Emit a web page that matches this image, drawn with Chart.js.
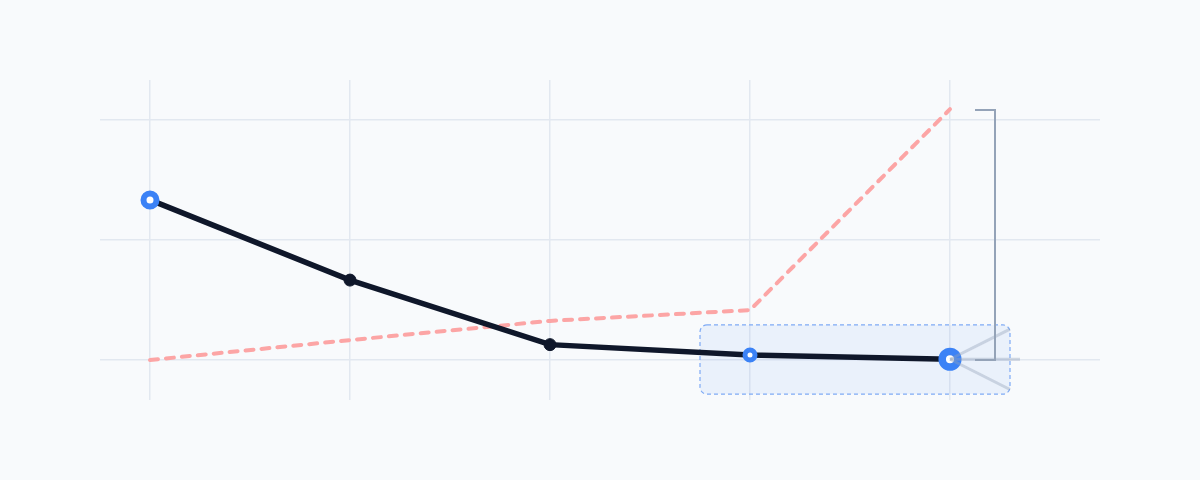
<!DOCTYPE html>
<html>
<head>
<meta charset="utf-8">
<script src="https://cdn.jsdelivr.net/npm/chart.js@4.4.1/dist/chart.umd.min.js"></script>
<style>
  html, body { margin: 0; padding: 0; background: #f8fafc; }
  #wrap { width: 1200px; height: 480px; }
</style>
</head>
<body>
<div id="wrap"><canvas id="chart"></canvas></div>
<script>
// Data
const steps = [0, 1, 2, 3, 4];
const mainSeries = [66.7, 33.3, 6.4, 2.1, 0.3];
const dashedSeries = [0, 8.3, 16.3, 20.8, 104.5];
const yTicks = [0, 50, 100];

// Marker styling per point
const ringBlue = '#3b82f6';
const ink = '#0f172a';
const pointRadii = [6.5, 6, 6, 5, 7.8];
const pointBorders = [6, 1, 1, 5, 7.5];
const pointFill = ['#ffffff', ink, ink, '#ffffff', '#ffffff'];
const pointStroke = [ringBlue, ink, ink, ringBlue, ringBlue];

// Overlay: highlight box, fan, bracket (drawn through the scales)
const overlay = {
  id: 'overlay',
  beforeDatasetsDraw(chart) {
    const {ctx, scales: {x, y}} = chart;
    const x0 = x.getPixelForValue(2.75), x1 = x.getPixelForValue(4.3);
    const y0 = y.getPixelForValue(14.6), y1 = y.getPixelForValue(-14.2);
    ctx.save();
    ctx.beginPath();
    ctx.roundRect(x0, y0, x1 - x0, y1 - y0, 7);
    ctx.fillStyle = 'rgba(59,130,246,0.07)';
    ctx.fill();
    ctx.setLineDash([4, 3]);
    ctx.lineWidth = 1.2;
    ctx.strokeStyle = '#7eaaf5';
    ctx.stroke();
    ctx.restore();
  },
  afterDatasetsDraw(chart) {
    const {ctx, scales: {x, y}} = chart;
    ctx.save();
    // fan from the last point
    const cx = x.getPixelForValue(4), cy = y.getPixelForValue(mainSeries[4]);
    ctx.strokeStyle = 'rgba(148,163,184,0.4)';
    ctx.lineWidth = 3;
    const ends = [[4.3, 12.9], [4.35, 0.3], [4.3, -12.3]];
    ends.forEach(([ex, ey]) => {
      ctx.beginPath();
      ctx.moveTo(cx, cy);
      ctx.lineTo(x.getPixelForValue(ex), y.getPixelForValue(ey));
      ctx.stroke();
    });
    // bracket
    const bx0 = x.getPixelForValue(4.125), bx1 = x.getPixelForValue(4.225);
    const by0 = y.getPixelForValue(104.2), by1 = y.getPixelForValue(0);
    ctx.beginPath();
    ctx.moveTo(bx0, by0);
    ctx.lineTo(bx1, by0);
    ctx.lineTo(bx1, by1);
    ctx.lineTo(bx0, by1);
    ctx.strokeStyle = '#94a3b8';
    ctx.lineWidth = 2;
    ctx.stroke();
    ctx.restore();
  }
};

new Chart(document.getElementById('chart').getContext('2d'), {
  type: 'line',
  data: {
    datasets: [{
      label: 'main',
      data: steps.map((s, i) => ({x: s, y: mainSeries[i]})),
      borderColor: ink,
      borderWidth: 5.5,
      borderCapStyle: 'round',
      tension: 0,
      pointRadius: pointRadii,
      pointBorderWidth: pointBorders,
      pointBackgroundColor: pointFill,
      pointBorderColor: pointStroke,
      order: 1,
    }, {
      label: 'dashed',
      data: steps.map((s, i) => ({x: s, y: dashedSeries[i]})),
      borderColor: '#fca5a5',
      borderWidth: 4,
      borderDash: [8, 8],
      borderCapStyle: 'round',
      pointRadius: 0,
      tension: 0,
      order: 2,
    }]
  },
  options: {
    responsive: true,
    maintainAspectRatio: false,
    animation: false,
    events: [],
    layout: {
      padding: {left: 100, right: 100, top: 80, bottom: 80}
    },
    plugins: {
      legend: {display: false},
      tooltip: {enabled: false},
      title: {display: false},
    },
    scales: {
      x: {
        type: 'linear',
        min: -0.25,
        max: 4.75,
        afterBuildTicks: (scale) => { scale.ticks = steps.map(v => ({value: v})); },
        ticks: {display: false},
        border: {display: false},
        grid: {color: '#e2e8f0', lineWidth: 1.5, drawTicks: false},
      },
      y: {
        min: -16.667,
        max: 116.667,
        afterBuildTicks: (scale) => { scale.ticks = yTicks.map(v => ({value: v})); },
        ticks: {display: false},
        border: {display: false},
        grid: {color: '#e2e8f0', lineWidth: 1.5, drawTicks: false},
      }
    }
  },
  plugins: [overlay]
});
</script>
</body>
</html>
